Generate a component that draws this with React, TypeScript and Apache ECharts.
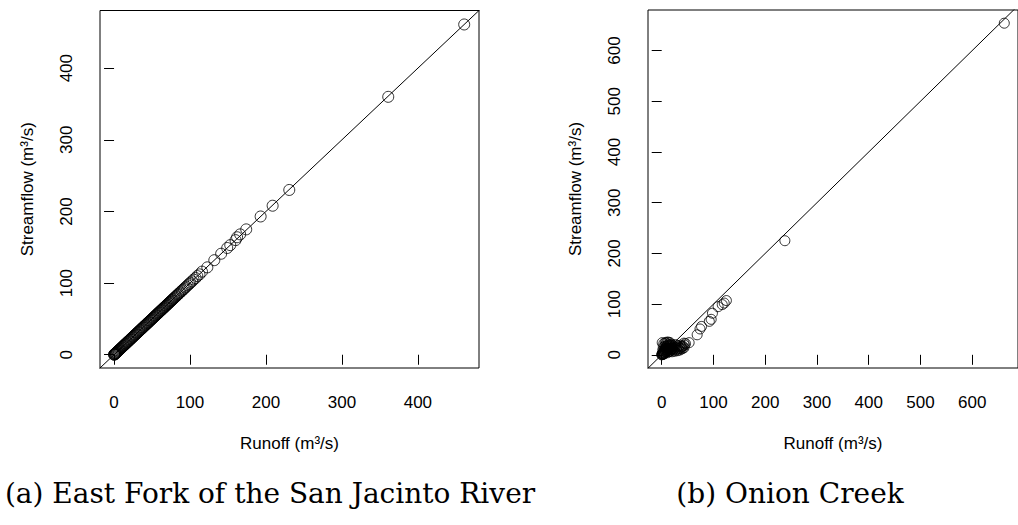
import React, { useEffect, useRef } from "react";
import * as echarts from "echarts";

// Panel (a): East Fork of the San Jacinto River — runoff vs streamflow (m³/s)
const runoffA: number[] = [
  0, 0.3, 0.6, 1.1, 1.4, 1.9, 2.3, 2.8, 3.5, 4.0, 4.6, 5.4, 6.1, 6.7, 7.6, 8.2, 9.1, 9.9, 10.8, 11.6,
  12.6, 13.3, 14.4, 15.1, 16.1, 16.9, 17.9, 18.7, 19.8, 20.5, 21.6, 22.4, 23.5, 24.3, 25.4, 26.1, 27.3, 28.0, 29.2, 29.9,
  31.1, 31.8, 32.9, 33.7, 34.8, 35.6, 36.7, 37.5, 38.6, 39.4, 40.5, 41.3, 42.4, 43.2, 44.3, 45.1, 46.2, 47.0, 48.1, 48.9,
  50.0, 50.8, 51.9, 52.7, 53.8, 54.6, 55.7, 56.5, 57.6, 58.4, 59.5, 60.3, 61.4, 62.2, 63.3, 64.1, 65.2, 66.0, 67.1, 67.9,
  69.0, 69.8, 70.9, 71.7, 72.8, 73.6, 74.7, 75.5, 76.6, 77.4, 78.7, 79.6, 81.1, 82.0, 83.6, 84.4, 86.1, 87.2, 89.0, 90.1,
  91.9, 93.4, 95.2, 96.8, 98.9, 100.4, 102.8, 104.7, 107.4, 109.6, 112.5, 115.8, 122.8, 132, 141, 149, 153, 160, 162, 166,
  174, 193, 208.8, 230.7, 361, 461,
];
const streamflowA: number[] = [
  0.2, 0.1, 0.8, 0.9, 1.6, 1.7, 2.5, 2.7, 3.3, 4.2, 4.5, 5.6, 5.9, 6.9, 7.4, 8.4, 8.9, 10.1, 10.6, 11.8,
  12.4, 13.5, 14.2, 15.3, 15.9, 17.1, 17.7, 18.9, 19.6, 20.7, 21.4, 22.6, 23.3, 24.5, 25.2, 26.3, 27.1, 28.2, 29.0, 30.1,
  30.9, 32.0, 32.7, 33.9, 34.6, 35.8, 36.5, 37.7, 38.4, 39.6, 40.3, 41.5, 42.2, 43.4, 44.1, 45.3, 46.0, 47.2, 47.9, 49.1,
  49.8, 51.0, 51.7, 52.9, 53.6, 54.8, 55.5, 56.7, 57.4, 58.6, 59.3, 60.5, 61.2, 62.4, 63.1, 64.3, 65.0, 66.2, 66.9, 68.1,
  68.8, 70.0, 70.7, 71.9, 72.6, 73.8, 74.5, 75.7, 76.4, 77.6, 78.5, 79.8, 80.9, 82.2, 83.4, 84.6, 85.9, 87.4, 88.8, 90.3,
  91.7, 93.6, 95.0, 97.0, 98.7, 100.6, 102.5, 104.9, 107.1, 109.8, 112.2, 116.0, 122, 132, 141, 149, 153, 160, 164, 168,
  175, 193, 208, 230, 360, 461,
];

// Panel (b): Onion Creek
const runoffB: number[] = [
  0, 0.5, 1, 1.5, 2, 2.5, 3, 3, 4, 4, 5, 5, 6, 6, 7, 7, 8, 8, 9, 9,
  10, 10, 11, 11, 12, 12, 13, 13, 14, 14, 15, 15, 16, 16, 17, 17, 18, 18, 19, 19,
  20, 20, 21, 22, 23, 24, 25, 26, 27, 28, 29, 30, 31, 32, 33, 34, 35, 36, 37, 38,
  39, 40, 41, 43, 44, 46, 2, 5, 8, 11, 14, 3, 6, 9, 1, 4, 7, 10, 13, 16,
  43, 53, 68.5, 74, 77, 92, 95.6, 98, 109, 117, 120.8, 125, 238, 662,
];
const streamflowB: number[] = [
  0, 1, 0.5, 2, 3, 1.5, 1, 5, 2, 6, 4, 8, 3, 10, 6, 12, 5, 14, 8, 16,
  7, 18, 4, 13, 9, 20, 13, 6, 10, 17, 20, 11, 14, 7, 8, 19, 16, 10, 11, 21,
  6, 19, 13, 9, 17, 12, 7, 15, 20, 10, 14, 8, 18, 12, 16, 9, 13, 19, 11, 15,
  17, 12, 17, 14, 19, 22, 9, 11, 13, 9, 12, 15, 17, 23, 24, 22, 24, 25, 25, 24,
  23, 24, 39.5, 51, 56, 66, 70, 82, 95, 99, 102, 107, 225, 654,
];

const xTicksA = [0, 100, 200, 300, 400];
const yTicksA = [0, 100, 200, 300, 400];
const xTicksB = [0, 100, 200, 300, 400, 500, 600];
const yTicksB = [0, 100, 200, 300, 400, 500, 600];

const xLabel = "Runoff (m³/s)";
const yLabel = "Streamflow (m³/s)";
const captionA = "(a) East Fork of the San Jacinto River";
const captionB = "(b) Onion Creek";

const rangeA = { xMin: -18.5, xMax: 480.5, yMin: -18.5, yMax: 480.5 };
const rangeB = { xMin: -26.5, xMax: 688.5, yMin: -26, yMax: 680 };

const zip = (a: number[], b: number[]) => a.map((v, i) => [v, b[i]]);

const FONT = "'Liberation Sans', Arial, Helvetica, sans-serif";
const FS = 17;

function xAxisCfg(gridIndex: number, r: any, ticks: number[]) {
  return {
    type: "value",
    gridIndex,
    min: r.xMin,
    max: r.xMax,
    name: xLabel,
    nameLocation: "middle",
    nameGap: 67,
    nameTextStyle: { color: "#000", fontSize: FS, fontFamily: FONT },
    axisLine: { show: false },
    splitLine: { show: false },
    axisTick: {
      show: true,
      inside: false,
      length: 10,
      customValues: ticks,
      lineStyle: { color: "#000", width: 1 },
    },
    axisLabel: {
      customValues: ticks,
      margin: 26,
      color: "#000",
      fontSize: FS,
      fontFamily: FONT,
    },
  };
}

function yAxisCfg(gridIndex: number, r: any, ticks: number[]) {
  return {
    type: "value",
    gridIndex,
    min: r.yMin,
    max: r.yMax,
    name: yLabel,
    nameLocation: "middle",
    nameGap: 64,
    nameRotate: 90,
    nameTextStyle: { color: "#000", fontSize: FS, fontFamily: FONT },
    axisLine: { show: false },
    splitLine: { show: false },
    axisTick: {
      show: true,
      inside: false,
      length: 10,
      customValues: ticks,
      lineStyle: { color: "#000", width: 1 },
    },
    axisLabel: {
      customValues: ticks,
      rotate: 90,
      margin: 25,
      color: "#000",
      fontSize: FS,
      fontFamily: FONT,
    },
  };
}

const pointStyle = {
  color: "rgba(0,0,0,0)",
  borderColor: "#000",
  borderWidth: 1,
};

export default function App() {
  const ref = useRef<HTMLDivElement>(null);

  useEffect(() => {
    document.body.style.margin = "0";
    if (!ref.current) return;
    const chart = echarts.init(ref.current, null, { renderer: "svg" });
    chart.setOption({
      animation: false,
      backgroundColor: "#fff",
      grid: [
        { left: 100, top: 10.5, width: 379, height: 357.5, show: true, borderColor: "#000", borderWidth: 1, backgroundColor: "transparent" },
        { left: 648, top: 10, width: 379, height: 358, show: true, borderColor: "#000", borderWidth: 1, backgroundColor: "transparent" },
      ],
      xAxis: [xAxisCfg(0, rangeA, xTicksA), xAxisCfg(1, rangeB, xTicksB)],
      yAxis: [yAxisCfg(0, rangeA, yTicksA), yAxisCfg(1, rangeB, yTicksB)],
      series: [
        {
          type: "line",
          xAxisIndex: 0,
          yAxisIndex: 0,
          data: [
            [rangeA.xMin - 10, rangeA.xMin - 10],
            [rangeA.xMax + 10, rangeA.xMax + 10],
          ],
          symbol: "none",
          clip: true,
          lineStyle: { color: "#000", width: 1 },
          silent: true,
        },
        {
          type: "scatter",
          xAxisIndex: 0,
          yAxisIndex: 0,
          data: zip(runoffA, streamflowA),
          symbol: "circle",
          symbolSize: 11,
          itemStyle: pointStyle,
          clip: true,
        },
        {
          type: "line",
          xAxisIndex: 1,
          yAxisIndex: 1,
          data: [
            [rangeB.xMin - 10, rangeB.xMin - 10],
            [rangeB.xMax + 10, rangeB.xMax + 10],
          ],
          symbol: "none",
          clip: true,
          lineStyle: { color: "#000", width: 1 },
          silent: true,
        },
        {
          type: "scatter",
          xAxisIndex: 1,
          yAxisIndex: 1,
          data: zip(runoffB, streamflowB),
          symbol: "circle",
          symbolSize: 10,
          itemStyle: pointStyle,
          clip: true,
        },
      ],
      graphic: [
        {
          type: "text",
          x: 270,
          y: 493,
          style: {
            text: captionA,
            fill: "#000",
            font: "28px 'DejaVu Serif', serif",
            textAlign: "center",
            textVerticalAlign: "middle",
          },
        },
        {
          type: "text",
          x: 790,
          y: 493,
          style: {
            text: captionB,
            fill: "#000",
            font: "28px 'DejaVu Serif', serif",
            textAlign: "center",
            textVerticalAlign: "middle",
          },
        },
      ],
    });
    return () => chart.dispose();
  }, []);

  return <div ref={ref} style={{ width: 1018, height: 525 }} />;
}
